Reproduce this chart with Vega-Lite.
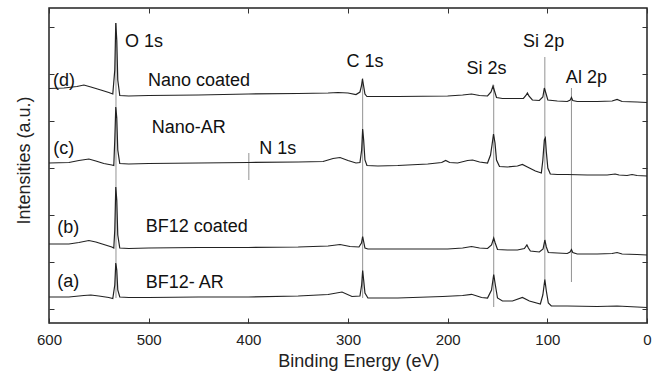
{
  "$schema": "https://vega.github.io/schema/vega-lite/v6.json",
  "width": 598,
  "height": 315,
  "autosize": "none",
  "padding": {"left": 49, "top": 8, "right": 16, "bottom": 49},
  "config": {
    "view": {"stroke": "#222", "strokeWidth": 1.5},
    "font": "Liberation Sans",
    "axis": {"domain": false, "grid": false, "tickColor": "#333", "tickWidth": 1, "labelColor": "#222", "titleColor": "#222", "titleFontWeight": "normal", "labelFlush": false}
  },
  "datasets": {
    "spectra": [
      {"s":"a","E":600,"I":26},{"s":"a","E":580,"I":26},{"s":"a","E":565,"I":27.5},{"s":"a","E":558,"I":28},{"s":"a","E":550,"I":27},{"s":"a","E":540,"I":25.5},{"s":"a","E":536,"I":24.5},{"s":"a","E":534,"I":38},{"s":"a","E":533,"I":60},{"s":"a","E":532,"I":53},{"s":"a","E":531,"I":33},{"s":"a","E":529,"I":26},{"s":"a","E":520,"I":25.5},{"s":"a","E":500,"I":25.5},{"s":"a","E":450,"I":26},{"s":"a","E":400,"I":26},{"s":"a","E":350,"I":27},{"s":"a","E":320,"I":28.5},{"s":"a","E":306,"I":31},{"s":"a","E":296,"I":26.5},{"s":"a","E":288,"I":27},{"s":"a","E":286.3,"I":38},{"s":"a","E":285.3,"I":52.5},{"s":"a","E":284.3,"I":43},{"s":"a","E":283,"I":30},{"s":"a","E":280,"I":25},{"s":"a","E":250,"I":25},{"s":"a","E":205,"I":26.5},{"s":"a","E":185,"I":27.5},{"s":"a","E":176,"I":28.7},{"s":"a","E":166,"I":25.5},{"s":"a","E":160,"I":25},{"s":"a","E":156,"I":33},{"s":"a","E":153.8,"I":48.5},{"s":"a","E":152,"I":37},{"s":"a","E":150,"I":25},{"s":"a","E":145,"I":22},{"s":"a","E":135,"I":22},{"s":"a","E":125,"I":25.5},{"s":"a","E":118,"I":22},{"s":"a","E":107,"I":19},{"s":"a","E":104.5,"I":28},{"s":"a","E":102.5,"I":43.5},{"s":"a","E":101,"I":32},{"s":"a","E":99,"I":20},{"s":"a","E":96,"I":17},{"s":"a","E":80,"I":17},{"s":"a","E":50,"I":16.5},{"s":"a","E":30,"I":17},{"s":"a","E":10,"I":16},{"s":"a","E":0,"I":15.5},
      {"s":"b","E":600,"I":79},{"s":"b","E":580,"I":79},{"s":"b","E":570,"I":80.5},{"s":"b","E":560,"I":82.5},{"s":"b","E":553,"I":81},{"s":"b","E":545,"I":78.5},{"s":"b","E":537,"I":76},{"s":"b","E":535,"I":75},{"s":"b","E":534,"I":93},{"s":"b","E":533,"I":136},{"s":"b","E":532,"I":123},{"s":"b","E":531,"I":88},{"s":"b","E":529,"I":75},{"s":"b","E":520,"I":74.5},{"s":"b","E":500,"I":75},{"s":"b","E":450,"I":75.5},{"s":"b","E":400,"I":75.5},{"s":"b","E":350,"I":76},{"s":"b","E":320,"I":77},{"s":"b","E":308,"I":78.5},{"s":"b","E":298,"I":76.5},{"s":"b","E":289,"I":76},{"s":"b","E":286.5,"I":80},{"s":"b","E":285.3,"I":86.3},{"s":"b","E":284.2,"I":81},{"s":"b","E":283,"I":75},{"s":"b","E":280,"I":74},{"s":"b","E":250,"I":74},{"s":"b","E":200,"I":74},{"s":"b","E":185,"I":75},{"s":"b","E":176,"I":76.5},{"s":"b","E":168,"I":75},{"s":"b","E":160,"I":74.5},{"s":"b","E":156,"I":78},{"s":"b","E":153.8,"I":85},{"s":"b","E":152.3,"I":80},{"s":"b","E":150,"I":73.5},{"s":"b","E":140,"I":73},{"s":"b","E":130,"I":73},{"s":"b","E":123,"I":74.5},{"s":"b","E":120.5,"I":78},{"s":"b","E":119,"I":75},{"s":"b","E":117,"I":72},{"s":"b","E":108,"I":71},{"s":"b","E":104.3,"I":74},{"s":"b","E":102.5,"I":83},{"s":"b","E":101,"I":76},{"s":"b","E":99,"I":70.5},{"s":"b","E":90,"I":70},{"s":"b","E":80,"I":69.5},{"s":"b","E":77.2,"I":71},{"s":"b","E":75.8,"I":73.5},{"s":"b","E":74.5,"I":70.5},{"s":"b","E":70,"I":69},{"s":"b","E":50,"I":69},{"s":"b","E":35,"I":69.5},{"s":"b","E":30,"I":70.5},{"s":"b","E":25,"I":69},{"s":"b","E":10,"I":68.5},{"s":"b","E":0,"I":68},
      {"s":"c","E":600,"I":160},{"s":"c","E":580,"I":160.5},{"s":"c","E":570,"I":162.5},{"s":"c","E":560,"I":164},{"s":"c","E":553,"I":162},{"s":"c","E":545,"I":159.5},{"s":"c","E":537,"I":158},{"s":"c","E":535,"I":157.5},{"s":"c","E":534,"I":183},{"s":"c","E":533,"I":216},{"s":"c","E":532,"I":205},{"s":"c","E":531,"I":173},{"s":"c","E":529,"I":159.5},{"s":"c","E":520,"I":159},{"s":"c","E":500,"I":159.5},{"s":"c","E":450,"I":160},{"s":"c","E":400,"I":160.5},{"s":"c","E":350,"I":161},{"s":"c","E":325,"I":161.5},{"s":"c","E":315,"I":164.5},{"s":"c","E":308,"I":165.5},{"s":"c","E":300,"I":162.5},{"s":"c","E":292,"I":160},{"s":"c","E":288,"I":160.5},{"s":"c","E":286.3,"I":173},{"s":"c","E":285.3,"I":194},{"s":"c","E":284.3,"I":183},{"s":"c","E":283,"I":163},{"s":"c","E":281,"I":157.5},{"s":"c","E":270,"I":157},{"s":"c","E":250,"I":157.5},{"s":"c","E":220,"I":159},{"s":"c","E":206,"I":160.5},{"s":"c","E":202,"I":162.5},{"s":"c","E":198,"I":160.5},{"s":"c","E":190,"I":160},{"s":"c","E":180,"I":162.5},{"s":"c","E":175,"I":163},{"s":"c","E":168,"I":161},{"s":"c","E":160,"I":160},{"s":"c","E":157,"I":168},{"s":"c","E":155.5,"I":178},{"s":"c","E":154,"I":189},{"s":"c","E":152.5,"I":180},{"s":"c","E":151,"I":163},{"s":"c","E":148,"I":156.5},{"s":"c","E":140,"I":156},{"s":"c","E":130,"I":157},{"s":"c","E":125,"I":158.5},{"s":"c","E":120,"I":156},{"s":"c","E":112,"I":152},{"s":"c","E":106,"I":150},{"s":"c","E":104.5,"I":163},{"s":"c","E":103,"I":183},{"s":"c","E":102,"I":185},{"s":"c","E":101,"I":171},{"s":"c","E":99.5,"I":155},{"s":"c","E":97,"I":149},{"s":"c","E":90,"I":148.5},{"s":"c","E":80,"I":148.5},{"s":"c","E":60,"I":148},{"s":"c","E":40,"I":148},{"s":"c","E":32,"I":149},{"s":"c","E":28,"I":148},{"s":"c","E":20,"I":147.5},{"s":"c","E":15,"I":148.5},{"s":"c","E":10,"I":147.5},{"s":"c","E":0,"I":147},
      {"s":"d","E":600,"I":234.5},{"s":"d","E":585,"I":235},{"s":"d","E":572,"I":236.5},{"s":"d","E":565,"I":238},{"s":"d","E":558,"I":236},{"s":"d","E":548,"I":233},{"s":"d","E":540,"I":230.5},{"s":"d","E":536,"I":229},{"s":"d","E":534,"I":253},{"s":"d","E":533,"I":300},{"s":"d","E":532,"I":283},{"s":"d","E":531,"I":243},{"s":"d","E":529,"I":227.5},{"s":"d","E":520,"I":227},{"s":"d","E":500,"I":227.5},{"s":"d","E":450,"I":228},{"s":"d","E":400,"I":229},{"s":"d","E":350,"I":229.5},{"s":"d","E":320,"I":230},{"s":"d","E":310,"I":230.5},{"s":"d","E":300,"I":230},{"s":"d","E":292,"I":228.5},{"s":"d","E":288,"I":231},{"s":"d","E":286.5,"I":237},{"s":"d","E":285.5,"I":244},{"s":"d","E":284.5,"I":238},{"s":"d","E":283,"I":229},{"s":"d","E":281,"I":226.5},{"s":"d","E":250,"I":226.5},{"s":"d","E":200,"I":227},{"s":"d","E":185,"I":228},{"s":"d","E":176,"I":229},{"s":"d","E":168,"I":227.5},{"s":"d","E":160,"I":227},{"s":"d","E":156.5,"I":231},{"s":"d","E":154.5,"I":237},{"s":"d","E":153,"I":232},{"s":"d","E":151,"I":225.5},{"s":"d","E":145,"I":224.5},{"s":"d","E":130,"I":224.5},{"s":"d","E":124,"I":224.5},{"s":"d","E":121.5,"I":227.5},{"s":"d","E":120,"I":230},{"s":"d","E":118.5,"I":227},{"s":"d","E":115,"I":223},{"s":"d","E":108,"I":222.5},{"s":"d","E":104.5,"I":226},{"s":"d","E":103,"I":235},{"s":"d","E":101.5,"I":230},{"s":"d","E":99.5,"I":223},{"s":"d","E":90,"I":222},{"s":"d","E":80,"I":221.5},{"s":"d","E":77,"I":223},{"s":"d","E":75.8,"I":225.5},{"s":"d","E":74.5,"I":222.5},{"s":"d","E":70,"I":221.5},{"s":"d","E":50,"I":221.5},{"s":"d","E":35,"I":222},{"s":"d","E":30,"I":223.5},{"s":"d","E":25,"I":221.5},{"s":"d","E":10,"I":221},{"s":"d","E":0,"I":220.5}
    ],
    "lines": [
      {"E":532.8,"y1":300,"y2":25},
      {"E":285.3,"y1":245,"y2":25},
      {"E":153.8,"y1":238,"y2":16},
      {"E":102.5,"y1":266,"y2":43},
      {"E":75.8,"y1":235,"y2":41},
      {"E":399.5,"y1":170,"y2":143}
    ],
    "labels": [
      {"E":523.8,"I":276.3,"t":"O 1s"},
      {"E":596,"I":237,"t":"(d)"},
      {"E":500.7,"I":237,"t":"Nano coated"},
      {"E":497,"I":190.3,"t":"Nano-AR"},
      {"E":595.7,"I":169,"t":"(c)"},
      {"E":389,"I":169,"t":"N 1s"},
      {"E":301.4,"I":256.3,"t":"C 1s"},
      {"E":181,"I":249,"t":"Si 2s"},
      {"E":124.3,"I":276.3,"t":"Si 2p"},
      {"E":81.4,"I":239.7,"t":"Al 2p"},
      {"E":591.7,"I":90,"t":"(b)"},
      {"E":503,"I":91,"t":"BF12 coated"},
      {"E":591.7,"I":36,"t":"(a)"},
      {"E":503,"I":35.5,"t":"BF12- AR"}
    ]
  },
  "layer": [
    {
      "data": {"name": "lines"},
      "mark": {"type": "rule", "color": "#777", "strokeWidth": 0.8},
      "encoding": {
        "x": {"field": "E", "type": "quantitative", "scale": {"domain": [0, 600], "reverse": true, "nice": false},
              "axis": {"orient": "top", "values": [0,100,200,300,400,500,600], "labels": false, "tickSize": -5, "title": null}},
        "y": {"field": "y1", "type": "quantitative", "scale": {"domain": [0, 315], "nice": false, "zero": false},
              "axis": {"orient": "right", "values": [14,61,108,155,202,249,296], "labels": false, "tickSize": -5, "title": null}},
        "y2": {"field": "y2"}
      }
    },
    {
      "data": {"name": "spectra"},
      "mark": {"type": "line", "color": "#222", "strokeWidth": 1.2},
      "encoding": {
        "x": {"field": "E", "type": "quantitative", "scale": {"domain": [0, 600], "reverse": true, "nice": false},
              "axis": {"orient": "bottom", "values": [0,100,200,300,400,500,600], "format": "d", "tickSize": -5, "labelPadding": 14, "labelFontSize": 15, "labelFlush": false,
                       "title": "Binding Energy (eV)", "titleFontSize": 18, "titleBaseline": "alphabetic", "titleAlign": "center", "titleX": 309.4, "titleY": 43.7}},
        "y": {"field": "I", "type": "quantitative", "scale": {"domain": [0, 315], "nice": false, "zero": false},
              "axis": {"orient": "left", "values": [14,61,108,155,202,249,296], "labels": false, "tickSize": -5,
                       "title": "Intensities (a.u.)", "titleFontSize": 18, "titleAngle": 270, "titleBaseline": "alphabetic", "titleAlign": "center", "titleX": -19.7, "titleY": 152}},
        "detail": {"field": "s", "type": "nominal"}
      }
    },
    {
      "data": {"name": "labels"},
      "mark": {"type": "text", "align": "left", "baseline": "alphabetic", "fontSize": 18, "color": "#111"},
      "encoding": {
        "x": {"field": "E", "type": "quantitative", "axis": null},
        "y": {"field": "I", "type": "quantitative", "axis": null},
        "text": {"field": "t"}
      }
    }
  ],
  "resolve": {"axis": {"x": "independent", "y": "independent"}}
}
